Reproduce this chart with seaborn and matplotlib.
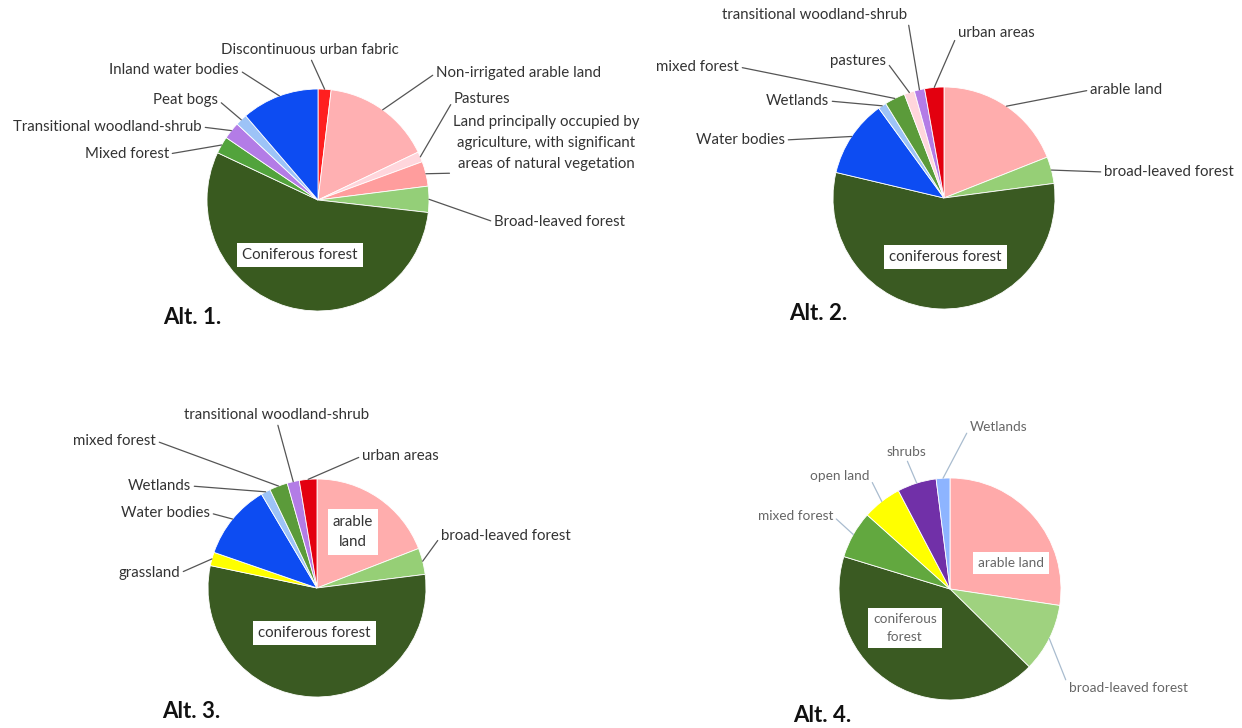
import numpy as np
import seaborn as sns
import matplotlib.pyplot as plt

# land cover shares (%), clockwise from 12 o'clock
alt1_labels = ["Discontinuous urban fabric", "Non-irrigated arable land", "Pastures",
               "Land principally occupied by\nagriculture, with significant\nareas of natural vegetation",
               "Broad-leaved forest", "Coniferous forest", "Mixed forest",
               "Transitional woodland-shrub", "Peat bogs", "Inland water bodies"]
alt1_values = [1.9, 16.0, 1.5, 3.6, 3.8, 55.2, 2.5, 2.5, 1.7, 11.3]

alt2_labels = ["arable land", "broad-leaved forest", "coniferous forest", "Water bodies",
               "Wetlands", "mixed forest", "pastures", "transitional woodland-shrub", "urban areas"]
alt2_values = [19.0, 3.9, 55.8, 11.3, 1.2, 3.0, 1.5, 1.5, 2.8]

alt3_labels = ["arable\nland", "broad-leaved forest", "coniferous forest", "grassland",
               "Water bodies", "Wetlands", "mixed forest", "transitional woodland-shrub", "urban areas"]
alt3_values = [19.1, 3.9, 55.3, 2.0, 11.2, 1.4, 2.7, 1.8, 2.6]

alt4_labels = ["arable land", "broad-leaved forest", "coniferous\nforest", "mixed forest",
               "open land", "shrubs", "Wetlands"]
alt4_values = [27.4, 10.0, 42.4, 6.9, 5.7, 5.7, 2.0]

titles = ["Alt. 1.", "Alt. 2.", "Alt. 3.", "Alt. 4."]

# colours
alt1_colors = ["#ff1f1f", "#ffb0b2", "#ffd6dc", "#ff9d9d", "#94cf78", "#395a1f",
               "#52a33c", "#b37ce6", "#9dc3f7", "#0d4cf2"]
alt2_colors = ["#ffadad", "#96cf76", "#3a5a22", "#0d4cf2", "#9dc3f7", "#5b9b3a",
               "#ffd6dc", "#b37ce6", "#e3000f"]
alt3_colors = ["#ffadad", "#96cf76", "#3a5a22", "#ffff00", "#0d4cf2", "#9dc3f7",
               "#5b9b3a", "#b37ce6", "#e3000f"]
alt4_colors = ["#ffaaaa", "#9fd27f", "#3a5a22", "#62a83f", "#ffff00", "#7130a8", "#8db4ff"]

# layout in pixels: (x, y, ha) for each label, "box" = boxed label inside the pie
alt1_pos = [(310, 50, "center"), (436, 73, "left"), (454, 99, "left"), (546, 143, "center"),
            (494, 222, "left"), (300, 255, "box"), (169, 154, "right"), (202, 127, "right"),
            (218, 100, "right"), (239, 70, "right")]
alt2_pos = [(1090, 90, "left"), (1104, 172, "left"), (945, 257, "box"), (785, 140, "right"),
            (829, 101, "right"), (739, 67, "right"), (886, 61, "right"), (907, 15, "right"),
            (958, 33, "left")]
alt3_pos = [(353, 532, "box"), (441, 536, "left"), (314, 633, "box"), (180, 573, "right"),
            (210, 513, "right"), (191, 486, "right"), (156, 441, "right"), (277, 415, "center"),
            (362, 456, "left")]
alt4_pos = [(1011, 563, "box"), (1069, 688, "left"), (905, 628, "box"), (833, 516, "right"),
            (869, 476, "right"), (906, 452, "center"), (970, 427, "left")]

centers = [(318, 200), (944, 198), (317, 588), (950, 589)]
radii = [111, 111, 109, 111]
title_pos = [(163, 317), (789, 313), (162, 712), (793, 715)]

sns.set_theme(style="white")
plt.rcParams["font.family"] = ["Lato", "DejaVu Sans"]

W, H = 1242, 728
fig = plt.figure(figsize=(W / 100, H / 100), dpi=100)
ax = fig.add_axes([0, 0, 1, 1])

relpos = {"left": (0, 0.5), "right": (1, 0.5), "center": (0.5, 0)}


def draw_pie(values, labels, colors, pos, center, radius, size, tcolor, lcolor):
    wedges, _ = ax.pie(values, colors=colors, center=center, radius=radius,
                       startangle=-90, counterclock=True, frame=True,
                       wedgeprops=dict(edgecolor="white", linewidth=0.6))
    for w, lab, (x, y, ha) in zip(wedges, labels, pos):
        if ha == "box":
            ax.text(x, y, lab, ha="center", va="center", fontsize=size, color=tcolor,
                    linespacing=1.6,
                    bbox=dict(boxstyle="square,pad=0.35", fc="white", ec="none"))
            continue
        th = np.deg2rad((w.theta1 + w.theta2) / 2)
        cx, cy = w.center
        anchor = (cx + w.r * np.cos(th), cy + w.r * np.sin(th))
        ax.annotate(lab, xy=anchor, xytext=(x, y), ha=ha, va="center",
                    fontsize=size, color=tcolor, linespacing=1.65,
                    arrowprops=dict(arrowstyle="-", color=lcolor, lw=0.9,
                                    shrinkA=0, shrinkB=0, relpos=relpos[ha]))


draw_pie(alt1_values, alt1_labels, alt1_colors, alt1_pos, centers[0], radii[0], 10.8, "#333333", "#555555")
draw_pie(alt2_values, alt2_labels, alt2_colors, alt2_pos, centers[1], radii[1], 10.8, "#333333", "#555555")
draw_pie(alt3_values, alt3_labels, alt3_colors, alt3_pos, centers[2], radii[2], 10.8, "#333333", "#555555")
draw_pie(alt4_values, alt4_labels, alt4_colors, alt4_pos, centers[3], radii[3], 9.8, "#666666", "#a9bccf")

for t, (x, y) in zip(titles, title_pos):
    ax.text(x, y, t, ha="left", va="center", fontsize=16, fontweight="bold", color="#111111")

ax.set_xlim(0, W)
ax.set_ylim(H, 0)
ax.set_aspect("equal")
ax.axis("off")

fig.savefig("out.png", dpi=100)
